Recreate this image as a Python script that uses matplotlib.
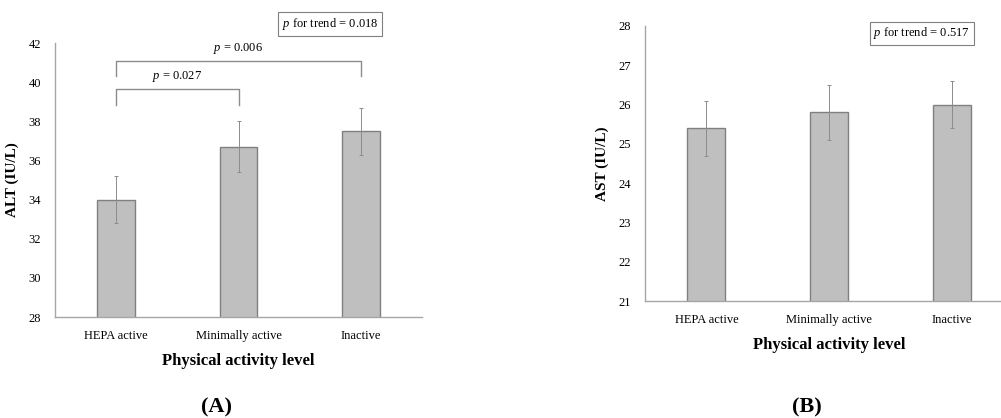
import matplotlib
matplotlib.use("Agg")
import matplotlib.pyplot as plt
import numpy as np

plt.rcParams['font.family'] = ['Liberation Serif', 'DejaVu Serif']
plt.rcParams['mathtext.fontset'] = 'custom'
plt.rcParams['mathtext.rm'] = 'Liberation Serif'
plt.rcParams['mathtext.it'] = 'Liberation Serif:italic'

categories = ["HEPA active", "Minimally active", "Inactive"]
alt_mean = [34.0, 36.7, 37.5]
alt_err = [1.2, 1.3, 1.2]
ast_mean = [25.4, 25.8, 26.0]
ast_err = [0.7, 0.7, 0.6]

# pairwise comparisons for ALT: (from, to, bracket top, leg bottom, label)
alt_brackets = [(0, 1, 39.66, 38.85, "$p$ = 0.027"),
                (0, 2, 41.08, 40.3, "$p$ = 0.006")]

bar_fc = "#bfbfbf"
bar_ec = "#808080"
spine_c = "#a6a6a6"

W, H = 1001, 418
fig = plt.figure(figsize=(W / 100, H / 100), dpi=100)


def px_axes(l, t, r, b):
    return fig.add_axes([l / W, 1 - b / H, (r - l) / W, (b - t) / H])


def style(ax, ylim, ylabel):
    x = np.arange(len(categories))
    ax.set_xlim(-0.5, 2.5)
    ax.set_ylim(*ylim)
    ax.set_yticks(np.arange(ylim[0], ylim[1] + 0.1, 2 if ylim[1] - ylim[0] > 10 else 1))
    ax.set_xticks(x)
    ax.set_xticklabels(categories, fontsize=9)
    # baseline alignment keeps labels with and without descenders level
    for lab in ax.get_xticklabels():
        lab.set_va('baseline')
    ax.tick_params(axis='y', labelsize=9, length=0, pad=10)
    ax.tick_params(axis='x', length=0, pad=15.5)
    for s in ['top', 'right']:
        ax.spines[s].set_visible(False)
    for s in ['left', 'bottom']:
        ax.spines[s].set_color(spine_c)
        ax.spines[s].set_linewidth(1.0)
    ax.set_ylabel(ylabel, fontsize=11, fontweight='bold', labelpad=7)
    ax.set_xlabel("Physical activity level", fontsize=12, fontweight='bold', labelpad=8)


def bars(ax, mean, err):
    x = np.arange(len(categories))
    ax.bar(x, mean, width=0.31, color=bar_fc, edgecolor=bar_ec, linewidth=1.0, zorder=2)
    ax.errorbar(x, mean, yerr=err, fmt='none', ecolor="#8c8c8c", elinewidth=0.7,
                capsize=1.5, capthick=0.7, zorder=3)


axA = px_axes(55, 43, 422, 317)
style(axA, (28, 42), "ALT (IU/L)")
bars(axA, alt_mean, alt_err)
for i, j, top, leg, lab in alt_brackets:
    axA.plot([i, i, j, j], [leg, top, top, leg], color="#8c8c8c", lw=1.0, clip_on=False)
    axA.text((i + j) / 2, top + 0.25, lab, ha='center', va='bottom', fontsize=9)
axA.text(1.75, 42.97, "$p$ for trend = 0.018", ha='center', va='center', fontsize=9,
         bbox=dict(boxstyle='square,pad=0.3', fc='white', ec='#808080', lw=0.8))
fig.text(217 / W, 1 - 407 / H, "(A)", ha='center', va='center', fontsize=16, fontweight='bold')

axB = px_axes(645, 26, 1013, 301)
style(axB, (21, 28), "AST (IU/L)")
bars(axB, ast_mean, ast_err)
axB.text(1.755, 27.81, "$p$ for trend = 0.517", ha='center', va='center', fontsize=9,
         bbox=dict(boxstyle='square,pad=0.3', fc='white', ec='#808080', lw=0.8))
fig.text(807 / W, 1 - 407 / H, "(B)", ha='center', va='center', fontsize=16, fontweight='bold')

fig.savefig("out.png", dpi=100)
